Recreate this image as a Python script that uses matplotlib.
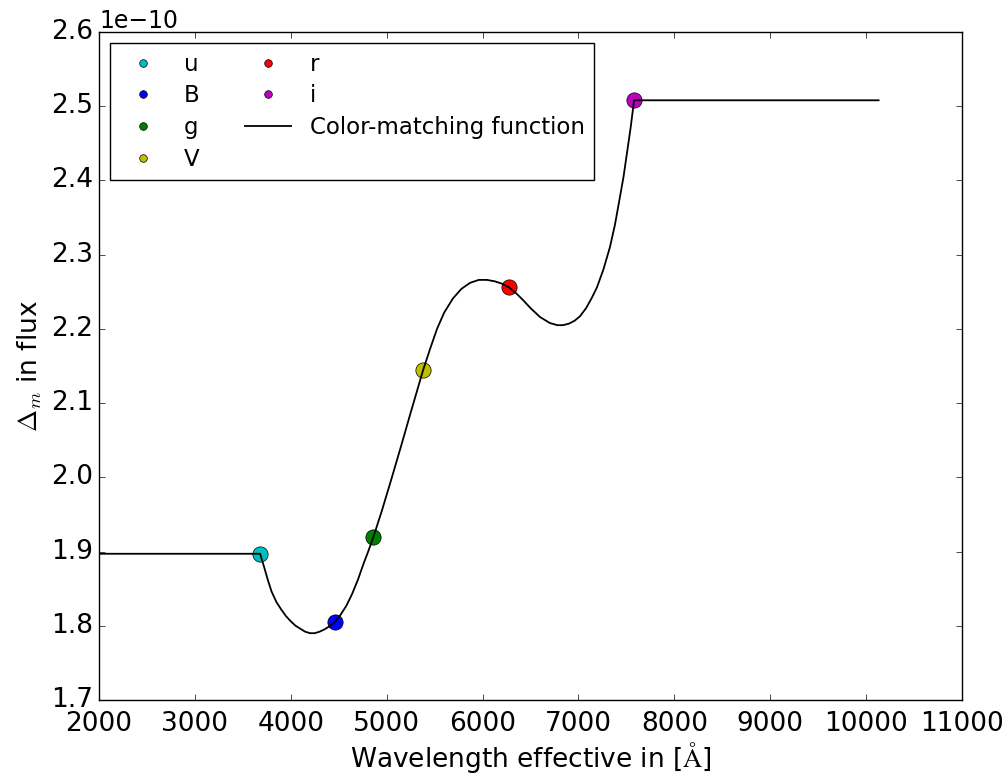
import matplotlib
matplotlib.use('Agg')
import matplotlib.pyplot as plt

plt.style.use('classic')

# effective wavelengths [A] and flux differences of each band
bands = ['u', 'B', 'g', 'V', 'r', 'i']
band_colors = ['c', 'b', 'g', 'y', 'r', 'm']
wl_eff = [3680, 4460, 4860, 5380, 6275, 7580]
delta_flux = [1.897e-10, 1.805e-10, 1.919e-10, 2.1445e-10, 2.256e-10, 2.508e-10]

# color-matching function sampled along wavelength
cmf_wl = [2000, 3680, 3720, 3760, 3800, 3850, 3900, 3950, 4000, 4050, 4100,
          4150, 4200, 4250, 4300, 4350, 4400, 4460, 4520, 4580, 4640, 4700,
          4760, 4810, 4860, 4950, 5050, 5150, 5250, 5380, 5450, 5525, 5600,
          5691, 5780, 5869, 5960, 6046, 6130, 6200, 6275, 6350, 6421, 6500,
          6599, 6700, 6780, 6838, 6900, 6960, 7016, 7080, 7140, 7193, 7260,
          7328, 7380, 7433, 7470, 7506, 7545, 7580, 10130]
cmf_flux = [1.897, 1.897, 1.880, 1.862, 1.846, 1.832, 1.822, 1.813, 1.806,
            1.800, 1.796, 1.792, 1.790, 1.790, 1.792, 1.795, 1.799, 1.805,
            1.815, 1.827, 1.843, 1.862, 1.884, 1.901, 1.919, 1.955, 1.998,
            2.042, 2.087, 2.1445, 2.172, 2.200, 2.222, 2.241, 2.254, 2.262,
            2.266, 2.266, 2.264, 2.261, 2.256, 2.248, 2.239, 2.228, 2.216,
            2.208, 2.205, 2.205, 2.207, 2.211, 2.217, 2.228, 2.242, 2.256,
            2.280, 2.310, 2.340, 2.378, 2.405, 2.437, 2.472, 2.508, 2.508]
cmf_flux = [v * 1e-10 for v in cmf_flux]

fs = 19
fig = plt.figure(figsize=(10.06, 7.75), dpi=100)
ax = fig.add_axes([0.0984, 0.0968, 0.8579, 0.8619])

for name, c, x, y in zip(bands, band_colors, wl_eff, delta_flux):
    ax.plot(x, y, 'o', color=c, markersize=11, markeredgecolor='k',
            markeredgewidth=0.5, label=name)
ax.plot(cmf_wl, cmf_flux, '-', color='k', linewidth=1.3,
        label='Color-matching function')

ax.set_xlim(2000, 11000)
ax.set_ylim(1.7e-10, 2.6e-10)
ax.tick_params(labelsize=fs)
ax.tick_params(axis='x', pad=8)
ax.yaxis.get_offset_text().set_fontsize(fs - 2)
ax.set_xlabel(r'Wavelength effective in [$\mathrm{\AA}$]', fontsize=fs,
              labelpad=2)
ax.set_ylabel(r'$\Delta_m$ in flux', fontsize=fs)

ax.legend(loc='upper left', ncol=2, numpoints=1, markerscale=0.5,
          fontsize=16.5, labelspacing=0.38)

fig.savefig('out.png', dpi=100)
